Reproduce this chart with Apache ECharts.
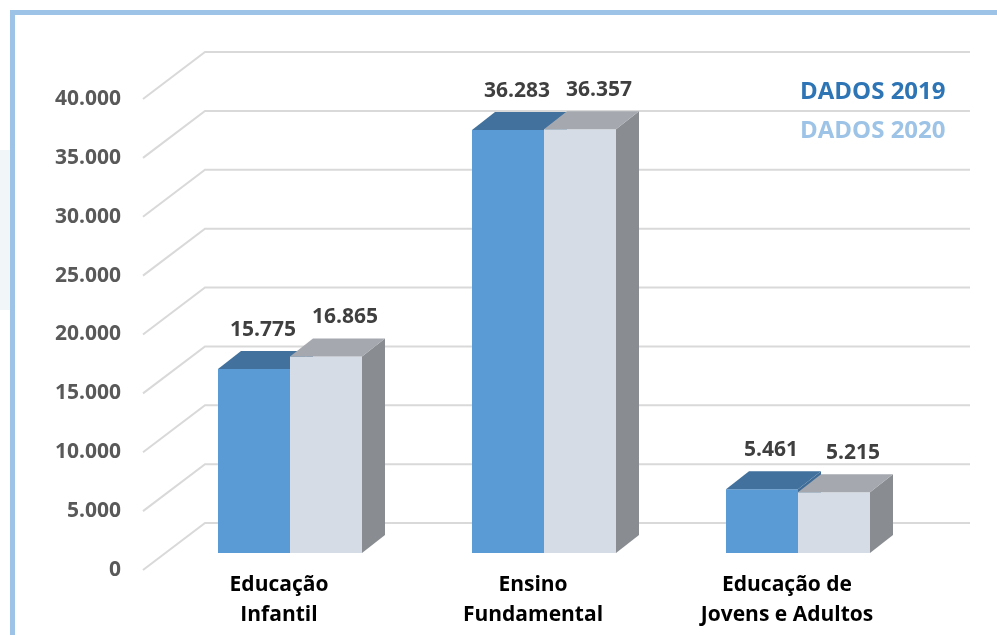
<!DOCTYPE html>
<html>
<head>
<meta charset="utf-8">
<script src="https://cdn.jsdelivr.net/npm/echarts@6/dist/echarts.min.js"></script>
<style>
html,body{margin:0;padding:0;background:#fff;}
#main{width:997px;height:635px;}
</style>
</head>
<body>
<div id="main"></div>
<script>
const categories = ['Educação\nInfantil', 'Ensino\nFundamental', 'Educação de\nJovens e Adultos'];
const dados2019 = [15775, 36283, 5461];
const dados2020 = [16865, 36357, 5215];
const yTicks = [0, 5000, 10000, 15000, 20000, 25000, 30000, 35000, 40000];
const seriesNames = ['DADOS 2019', 'DADOS 2020'];

function fmt(v) {
  return String(v).replace(/\B(?=(\d{3})+(?!\d))/g, '.');
}

const FONT = '"Open Sans", "Noto Sans", sans-serif';
const palette = [
  { front: '#5B9BD5', top: '#41719C', side: '#3E6C97', label: '#3F3F3F' },
  { front: '#D6DCE5', top: '#A5A8AF', side: '#898C91', label: '#3F3F3F' }
];
const BAR_W = 72, PLANE_DX = 22, PLANE_DY = -17, DEPTH_DX = 23, DEPTH_DY = -18, PERSP = 0.99;

function gridRender(params, api) {
  const cs = params.coordSys;
  const v = api.value(1);
  const y = api.coord([0, v])[1];
  const x0 = cs.x + 2;
  return {
    type: 'polyline',
    shape: { points: [[x0, y], [x0 + 62, y - 47], [cs.x + cs.width + 67, y - 47]] },
    style: { stroke: '#D9D9D9', lineWidth: 2, fill: null }
  };
}

function makeBar(k) {
  const col = palette[k];
  return function (params, api) {
    const i = api.value(0), v = api.value(1);
    const base = api.coord([i, 0]);
    const top = api.coord([i, v]);
    const c = base[0] + PLANE_DX;
    const x0 = k === 0 ? c - BAR_W : c;
    const x1 = x0 + BAR_W;
    const yb = base[1] + PLANE_DY;
    const yt = yb - (base[1] - top[1]) * PERSP;
    return {
      type: 'group',
      children: [
        { type: 'polygon', shape: { points: [[x1, yt], [x1 + DEPTH_DX, yt + DEPTH_DY], [x1 + DEPTH_DX, yb + DEPTH_DY], [x1, yb]] }, style: { fill: col.side } },
        { type: 'rect', shape: { x: x0, y: yt, width: BAR_W, height: yb - yt }, style: { fill: col.front } },
        { type: 'polygon', shape: { points: [[x0, yt], [x1, yt], [x1 + DEPTH_DX, yt + DEPTH_DY], [x0 + DEPTH_DX, yt + DEPTH_DY]] }, style: { fill: col.top } },
        { type: 'text', style: { text: fmt(v), x: (x0 + x1) / 2 + (k === 0 ? 9 : 19), y: yt - 39, textAlign: 'center', textVerticalAlign: 'middle', font: 'bold 21px ' + FONT, fill: col.label } }
      ]
    };
  };
}

const chart = echarts.init(document.getElementById('main'), null, { renderer: 'canvas' });
chart.setOption({
  backgroundColor: '#ffffff',
  animation: false,
  graphic: [
    { type: 'rect', left: 0, top: 150, shape: { width: 10, height: 160 }, style: { fill: '#F1F6F8' }, z: -1 },
    { type: 'rect', left: 10, top: 10, shape: { width: 987, height: 5 }, style: { fill: '#9DC3E6' } },
    { type: 'rect', left: 10, top: 10, shape: { width: 5, height: 625 }, style: { fill: '#9DC3E6' } }
  ],
  legend: {
    orient: 'vertical',
    left: 790,
    top: 75,
    icon: 'none',
    itemWidth: 0,
    itemHeight: 0,
    itemGap: 15,
    selectedMode: false,
    data: [
      { name: seriesNames[0], textStyle: { color: '#2E75B6' } },
      { name: seriesNames[1], textStyle: { color: '#9DC3E6' } }
    ],
    textStyle: { fontFamily: FONT, fontWeight: 'bold', fontSize: 24 }
  },
  grid: { left: 141, top: 99, width: 762, height: 471 },
  xAxis: {
    type: 'category',
    data: categories,
    axisLine: { show: false },
    axisTick: { show: false },
    axisLabel: {
      margin: 0,
      color: '#000000',
      fontFamily: FONT,
      fontWeight: 'bold',
      fontSize: 21,
      lineHeight: 30,
      padding: [0, 0, 0, 22],
      interval: 0
    }
  },
  yAxis: {
    type: 'value',
    min: 0,
    max: 40000,
    interval: 5000,
    axisLine: { show: false },
    axisTick: { show: false },
    splitLine: { show: false },
    axisLabel: {
      margin: 20,
      color: '#595959',
      fontFamily: FONT,
      fontWeight: 'bold',
      fontSize: 21,
      formatter: function (v) { return fmt(v); }
    }
  },
  series: [
    {
      type: 'custom',
      name: 'grid',
      silent: true,
      renderItem: gridRender,
      encode: { x: 0, y: 1 },
      data: yTicks.map(v => [0, v]),
      z: 1
    },
    {
      type: 'custom',
      name: seriesNames[0],
      renderItem: makeBar(0),
      encode: { x: 0, y: 1 },
      data: dados2019.map((v, i) => [i, v]),
      z: 2
    },
    {
      type: 'custom',
      name: seriesNames[1],
      renderItem: makeBar(1),
      encode: { x: 0, y: 1 },
      data: dados2020.map((v, i) => [i, v]),
      z: 3
    }
  ]
});
</script>
</body>
</html>
